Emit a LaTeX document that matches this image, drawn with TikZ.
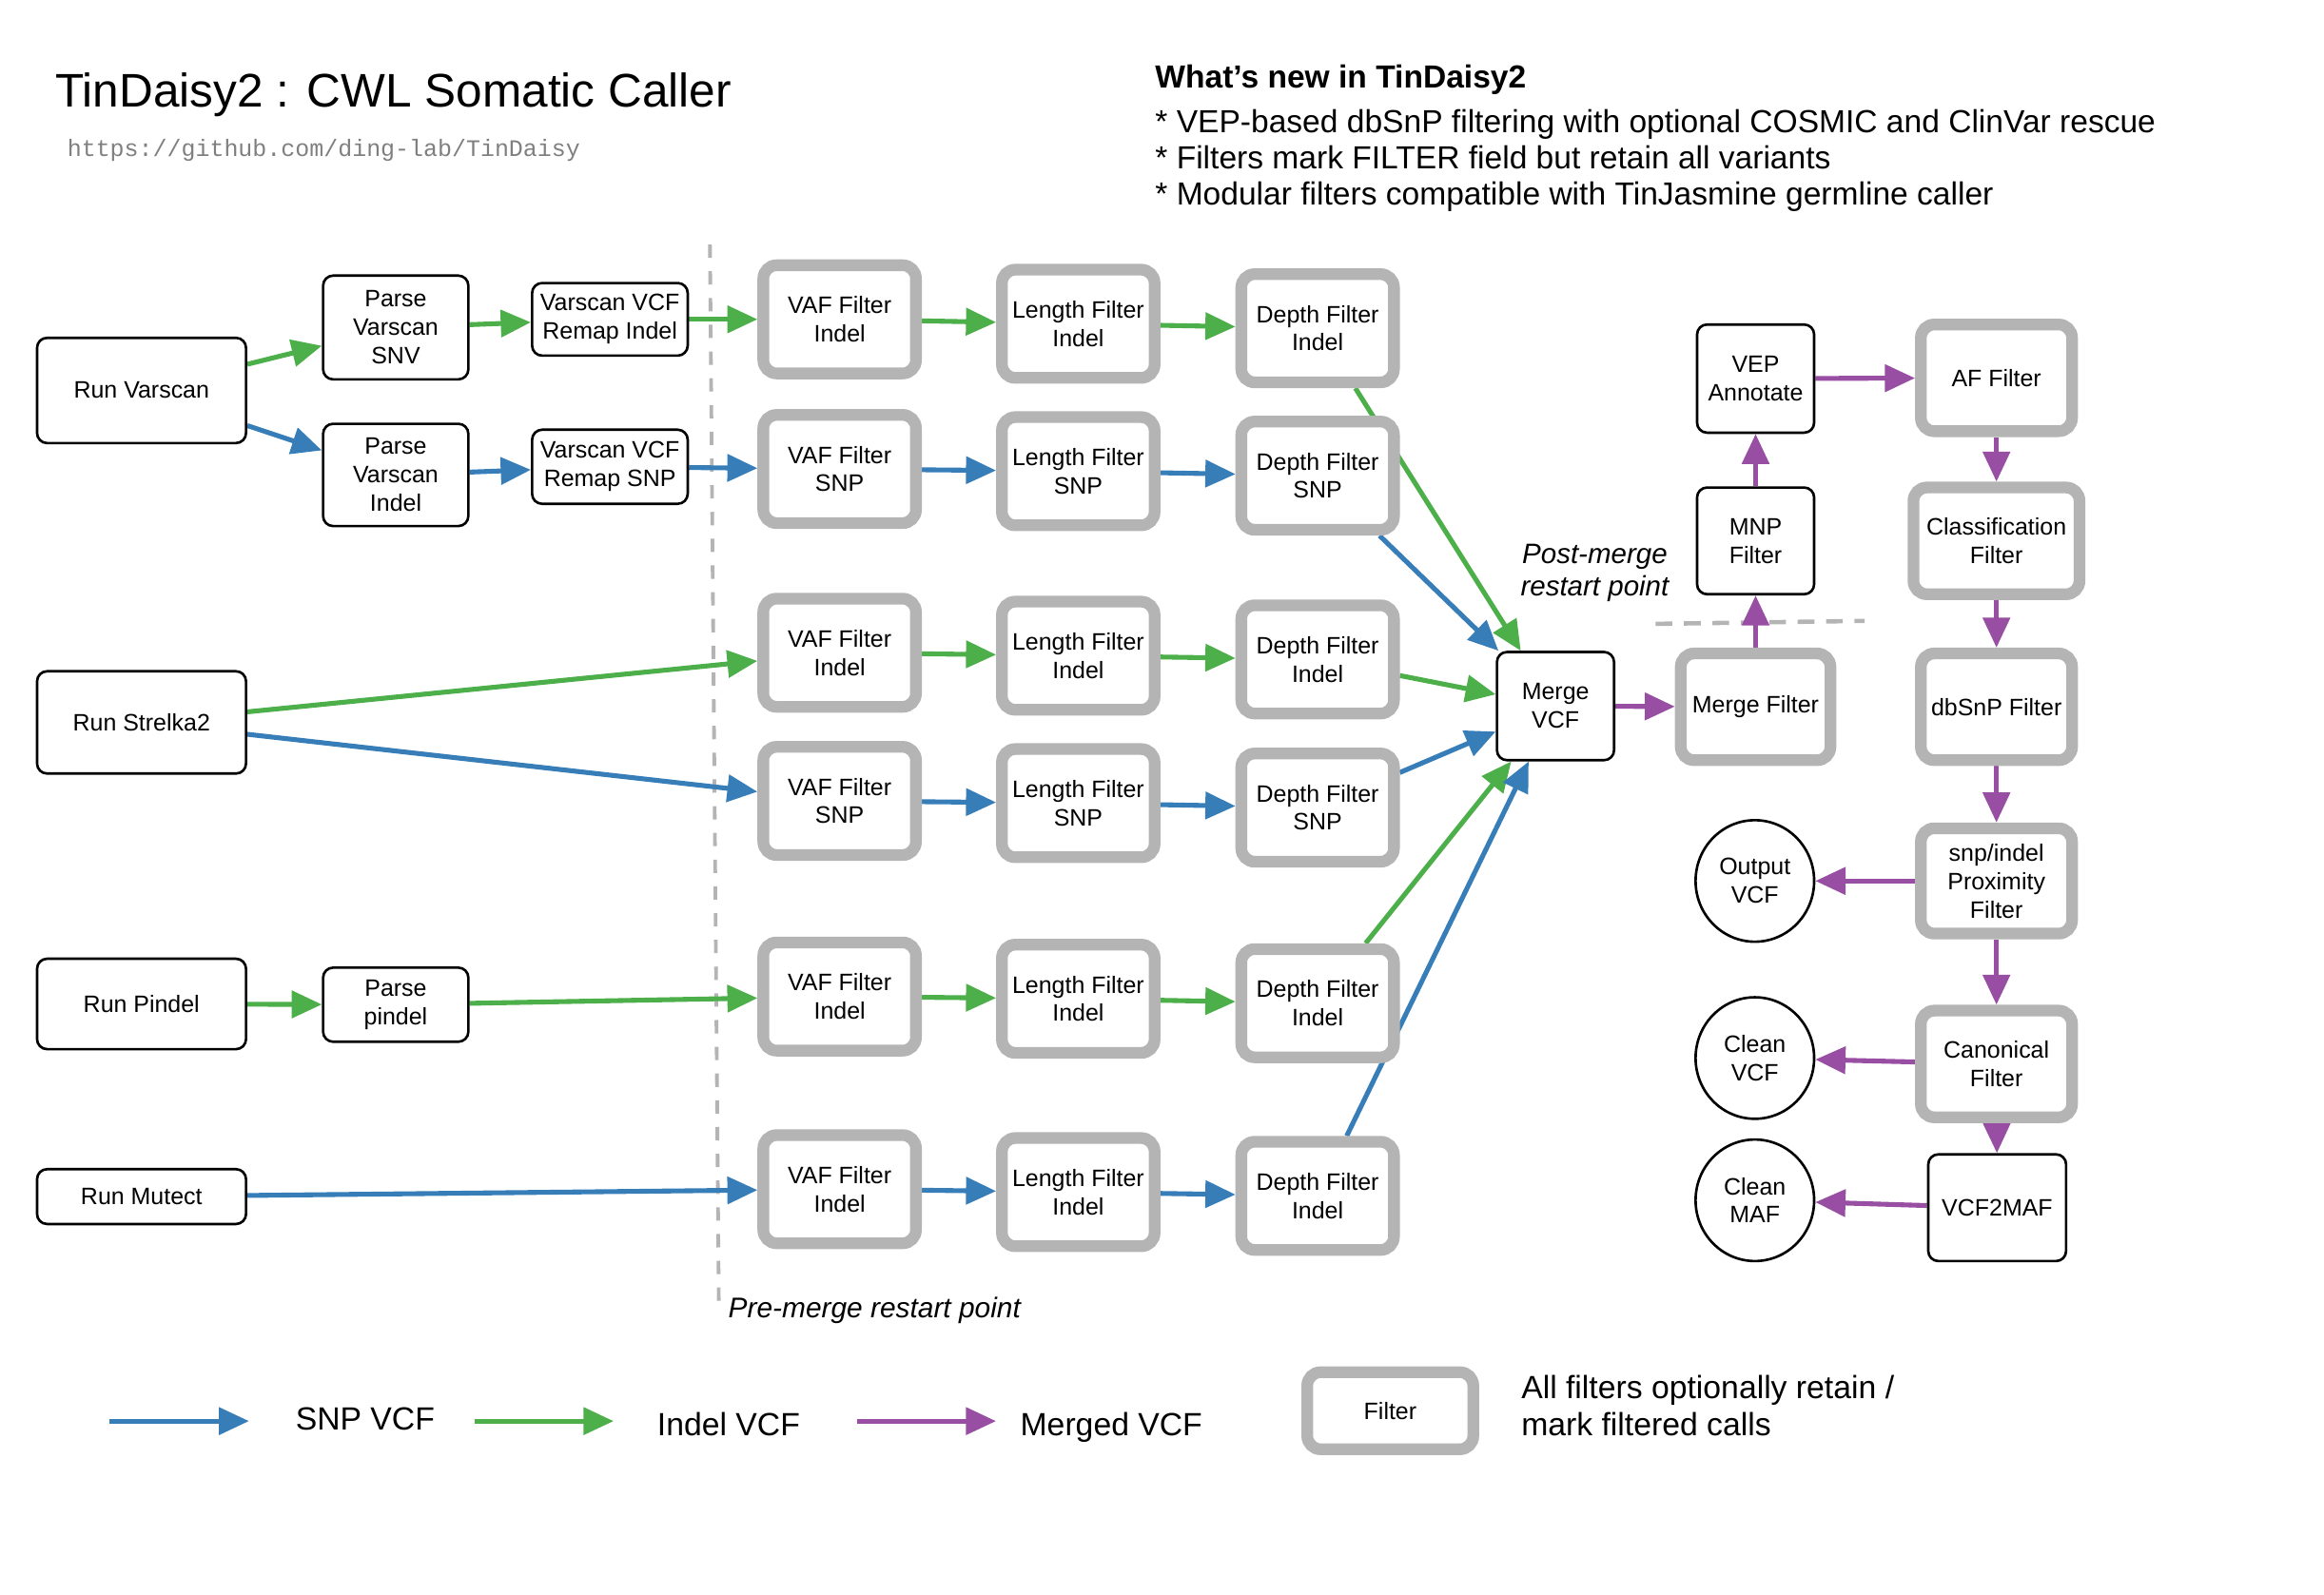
\documentclass[tikz,border=0pt]{standalone}
\usepackage{fontspec}
\setmainfont{Liberation Sans}
\setmonofont{Liberation Mono}
\usetikzlibrary{arrows.meta,shapes.geometric}
\definecolor{snpc}{HTML}{377EB8}
\definecolor{indc}{HTML}{4DAF4A}
\definecolor{mrgc}{HTML}{984EA3}
\definecolor{fgray}{HTML}{B4B4B4}
\definecolor{urlgray}{HTML}{7F7F7F}
\newcommand{\uq}{0.4433pt}
\pgfdeclarelayer{bg}
\pgfsetlayers{bg,main}
\begin{document}
\begin{tikzpicture}[x=0.01558cm,y=-0.01558cm,
  boxfont/.style={font=\fontsize{7.1}{8.5}\selectfont},
  plain/.style={draw=black, line width=0.75pt, rounded corners=3pt, fill=white, align=center, boxfont, inner sep=0pt},
  filt/.style={draw=fgray, line width=3.5pt, rounded corners=4pt, fill=white, align=center, boxfont, inner sep=0pt},
  fcol/.style={filt, minimum width=103*\uq, minimum height=73*\uq},
  circ/.style={draw=black, line width=0.75pt, ellipse, fill=white, align=center, boxfont, inner sep=0pt, minimum width=80*\uq, minimum height=82*\uq},
  arr/.style={line width=1.45pt, -{Triangle[length=9pt,width=8pt]}},
  snp/.style={arr, draw=snpc, fill=snpc},
  ind/.style={arr, draw=indc, fill=indc},
  mrg/.style={arr, draw=mrgc, fill=mrgc},
  restart/.style={draw=fgray, line width=1.1pt, dash pattern=on 4pt off 4pt},
  legtext/.style={font=\fontsize{9.6}{11.1}\selectfont},
  newtext/.style={font=\fontsize{9.55}{11}\selectfont, anchor=base west, inner sep=0pt}
]
\useasboundingbox (0,0) rectangle (1568,1076);

% titles
\node[anchor=base west, inner sep=0pt, font=\fontsize{14.1}{17}\selectfont] (title) at (37,72) {TinDaisy2 : CWL Somatic Caller};
\node[anchor=base west, inner sep=0pt, text=urlgray, font=\fontsize{7.1}{8.5}\selectfont\ttfamily] (url) at (45,105.5) {https://github.com/ding-lab/TinDaisy};
\node[newtext, font=\fontsize{9.55}{11}\selectfont\bfseries] (newhead) at (779,59.5) {What’s new in TinDaisy2};
\node[newtext] (new1) at (779,89.5) {* VEP-based dbSnP filtering with optional COSMIC and ClinVar rescue};
\node[newtext] (new2) at (779,114) {* Filters mark FILTER field but retain all variants};
\node[newtext] (new3) at (779,138.5) {* Modular filters compatible with TinJasmine germline caller};

% callers and parsers
\node[plain, minimum width=141*\uq, minimum height=71*\uq] (rv) at (95.5,263.5) {Run Varscan};
\node[plain, minimum width=98*\uq, minimum height=70*\uq] (pvs) at (267,221) {Parse\\Varscan\\SNV};
\node[plain, minimum width=98*\uq, minimum height=69*\uq] (pvi) at (267,320.5) {Parse\\Varscan\\Indel};
\node[plain, minimum width=105*\uq, minimum height=49*\uq] (rmi) at (411.5,215.5) {Varscan VCF\\Remap Indel};
\node[plain, minimum width=105*\uq, minimum height=50*\uq] (rms) at (411.5,315) {Varscan VCF\\Remap SNP};
\node[plain, minimum width=141*\uq, minimum height=69*\uq] (rs) at (95.5,487.5) {Run Strelka2};
\node[plain, minimum width=141*\uq, minimum height=61*\uq] (rp) at (95.5,677.5) {Run Pindel};
\node[plain, minimum width=98*\uq, minimum height=50*\uq] (pp) at (267,678) {Parse\\pindel};
\node[plain, minimum width=141*\uq, minimum height=37*\uq] (rm) at (95.5,807.5) {Run Mutect};

% filter columns
\node[fcol] (va1) at (566.5,215.5) {VAF Filter\\Indel};
\node[fcol] (le1) at (727.5,218.5) {Length Filter\\Indel};
\node[fcol] (de1) at (889,221.5) {Depth Filter\\Indel};
\node[fcol] (va2) at (566.5,316.5) {VAF Filter\\SNP};
\node[fcol] (le2) at (727.5,318) {Length Filter\\SNP};
\node[fcol] (de2) at (889,321) {Depth Filter\\SNP};
\node[fcol] (va3) at (566.5,440.5) {VAF Filter\\Indel};
\node[fcol] (le3) at (727.5,442.5) {Length Filter\\Indel};
\node[fcol] (de3) at (889,445) {Depth Filter\\Indel};
\node[fcol] (va4) at (566.5,540.5) {VAF Filter\\SNP};
\node[fcol] (le4) at (727.5,542) {Length Filter\\SNP};
\node[fcol] (de4) at (889,545) {Depth Filter\\SNP};
\node[fcol] (va5) at (566.5,672.5) {VAF Filter\\Indel};
\node[fcol] (le5) at (727.5,674) {Length Filter\\Indel};
\node[fcol] (de5) at (889,677) {Depth Filter\\Indel};
\node[fcol] (va6) at (566.5,802.5) {VAF Filter\\Indel};
\node[fcol] (le6) at (727.5,804.5) {Length Filter\\Indel};
\node[fcol] (de6) at (889,807) {Depth Filter\\Indel};

% post-merge
\node[plain, minimum width=79*\uq, minimum height=73*\uq] (mv) at (1049.5,476.5) {Merge\\VCF};
\node[filt, minimum width=101*\uq, minimum height=72*\uq] (mf) at (1184.5,477) {Merge Filter};
\node[plain, minimum width=79*\uq, minimum height=72*\uq] (mnp) at (1184.5,365) {MNP\\Filter};
\node[plain, minimum width=79*\uq, minimum height=73*\uq] (vep) at (1184.5,255.5) {VEP\\Annotate};
\node[filt, minimum width=102*\uq, minimum height=72*\uq] (af) at (1347,255) {AF Filter};
\node[filt, minimum width=112*\uq, minimum height=72*\uq] (cf) at (1347,365) {Classification\\Filter};
\node[filt, minimum width=102*\uq, minimum height=72*\uq] (db) at (1347,477) {dbSnP Filter};
\node[filt, minimum width=102*\uq, minimum height=71*\uq] (px) at (1347,594.5) {snp/indel\\Proximity\\Filter};
\node[filt, minimum width=102*\uq, minimum height=72*\uq] (cn) at (1347,718) {Canonical\\Filter};
\node[plain, minimum width=93*\uq, minimum height=72*\uq] (v2m) at (1347.5,815) {VCF2MAF};
\node[circ] (ov) at (1184,594.5) {Output\\VCF};
\node[circ] (cv) at (1184,714) {Clean\\VCF};
\node[circ] (cm) at (1184,810) {Clean\\MAF};

% restart points
\coordinate (pre1) at (479,165);
\coordinate (pre2) at (485,882);
\coordinate (post1) at (1117,421);
\coordinate (post2) at (1258,419);
\node[anchor=base west, inner sep=0pt, font=\fontsize{8.5}{10}\selectfont\itshape] (prelab) at (491,889) {Pre-merge restart point};
\node[align=center, inner sep=0pt, font=\fontsize{8.4}{9.8}\selectfont\itshape] (postlab) at (1076,386.5) {Post-merge\\restart point};

% legend
\coordinate (l1a) at (74,959); \coordinate (l1b) at (168,959);
\coordinate (l2a) at (320,959); \coordinate (l2b) at (414,959);
\coordinate (l3a) at (578,959); \coordinate (l3b) at (672,959);
\node[legtext, anchor=base west, inner sep=0pt] (lt1) at (199,965) {SNP VCF};
\node[legtext, anchor=base west, inner sep=0pt] (lt2) at (443,969) {Indel VCF};
\node[legtext, anchor=base west, inner sep=0pt] (lt3) at (688,969) {Merged VCF};
\node[filt, minimum width=112*\uq, minimum height=52*\uq] (lf) at (938,952) {Filter};
\node[legtext, anchor=west, align=left, inner sep=0pt] (lt4) at (1026,948.5) {All filters optionally retain /\\mark filtered calls};

\begin{pgfonlayer}{bg}
\draw[restart] (pre1) -- (pre2);
\draw[restart, line width=1.3pt, dash pattern=on 5pt off 3.5pt] (post1) -- (post2);
% varscan
\draw[ind] (rv) -- (pvs);
\draw[snp] (rv) -- (pvi);
\draw[ind] (pvs) -- (rmi);
\draw[snp] (pvi) -- (rms);
\draw[ind] (rmi) -- (va1);
\draw[snp] (rms) -- (va2);
\draw[ind] (va1) -- (le1);
\draw[ind] (le1) -- (de1);
\draw[snp] (va2) -- (le2);
\draw[snp] (le2) -- (de2);
\draw[ind] (de1) -- (mv);
\draw[snp] (de2) -- (mv);
% strelka
\draw[ind] (rs) -- (va3);
\draw[snp] (rs) -- (va4);
\draw[ind] (va3) -- (le3);
\draw[ind] (le3) -- (de3);
\draw[snp] (va4) -- (le4);
\draw[snp] (le4) -- (de4);
\draw[ind] (de3) -- (mv);
\draw[snp] (de4) -- (mv);
% pindel
\draw[ind] (rp) -- (pp);
\draw[ind] (pp) -- (va5);
\draw[ind] (va5) -- (le5);
\draw[ind] (le5) -- (de5);
\draw[ind] (de5) -- (mv);
% mutect
\draw[snp] (rm) -- (va6);
\draw[snp] (va6) -- (le6);
\draw[snp] (le6) -- (de6);
\draw[snp] (de6) -- (mv);
% merged
\draw[mrg] (mv) -- (mf);
\draw[mrg] (mf) -- (mnp);
\draw[mrg] (mnp) -- (vep);
\draw[mrg] (vep) -- (af);
\draw[mrg] (af) -- (cf);
\draw[mrg] (cf) -- (db);
\draw[mrg] (db) -- (px);
\draw[mrg] (px) -- (ov);
\draw[mrg] (px) -- (cn);
\draw[mrg] (cn) -- (cv);
\draw[mrg] (cn) -- (v2m);
\draw[mrg] (v2m) -- (cm);
% legend arrows
\draw[snp] (l1a) -- (l1b);
\draw[ind] (l2a) -- (l2b);
\draw[mrg] (l3a) -- (l3b);
\end{pgfonlayer}
\end{tikzpicture}
\end{document}
